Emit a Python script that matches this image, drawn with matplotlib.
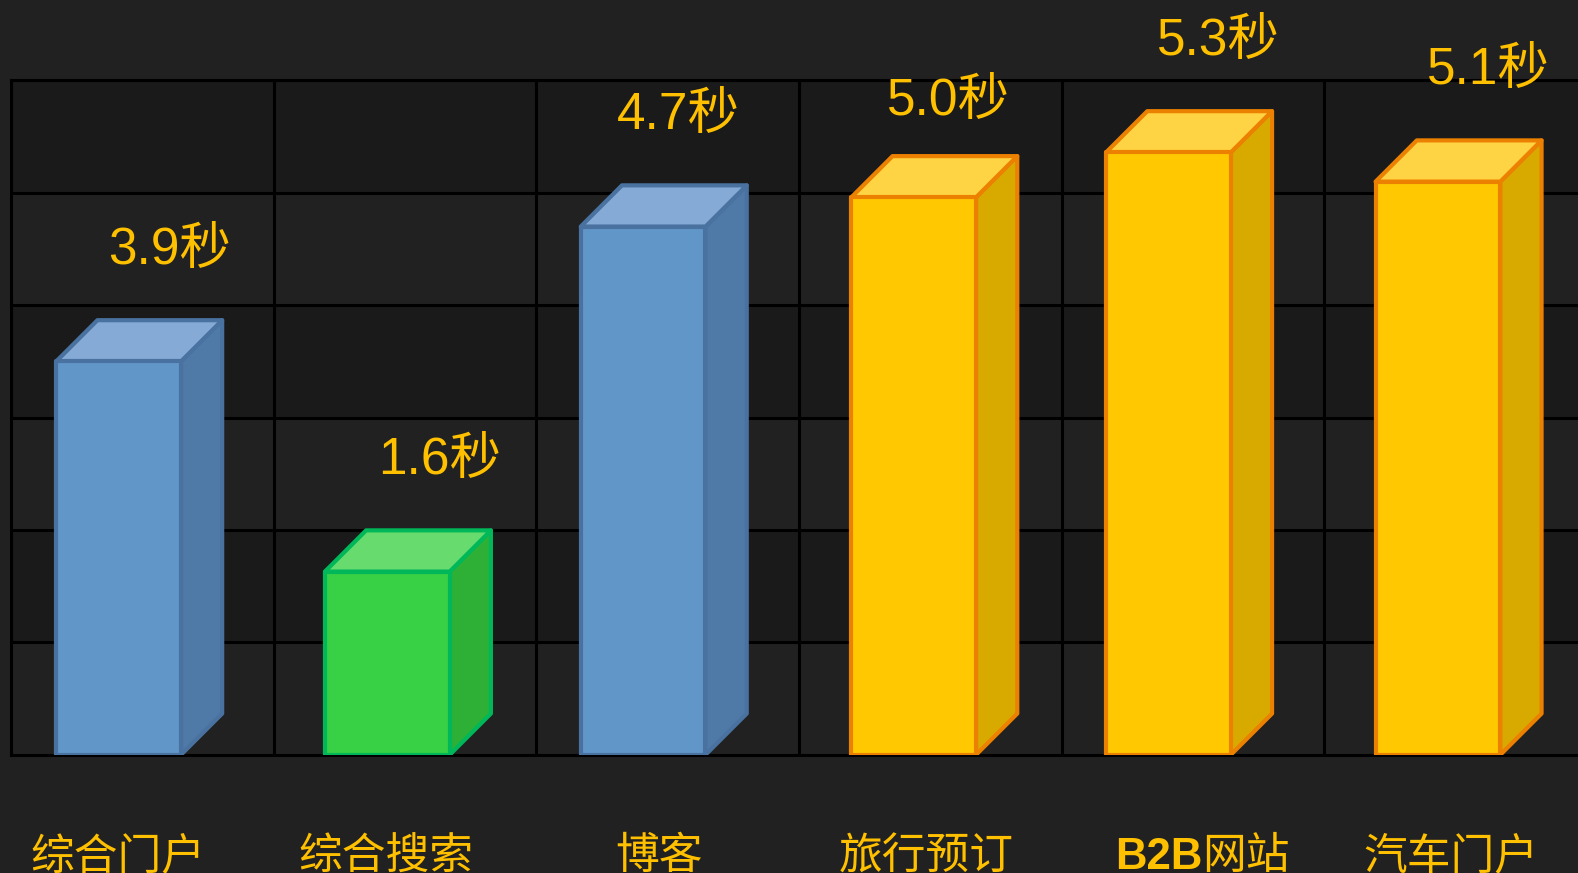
import matplotlib
matplotlib.use("Agg")
import matplotlib.pyplot as plt
from matplotlib.patches import Polygon, Rectangle
from matplotlib.transforms import blended_transform_factory

# data
categories = ["综合门户", "综合搜索", "博客", "旅行预订", "B2B网站", "汽车门户"]
heights = [3.5, 1.63, 4.7, 4.96, 5.36, 5.1]
value_labels = ["3.9秒", "1.6秒", "4.7秒", "5.0秒", "5.3秒", "5.1秒"]
groups = ["blue", "green", "blue", "yellow", "yellow", "yellow"]

BG = "#212121"
BAND = "#1a1a1a"
TXT = "#ffc000"
# front, top, side, edge
PAL = {
    "blue": ("#6196c9", "#85aad5", "#4f7aa8", "#4a72a0"),
    "green": ("#38d145", "#68db6e", "#2db035", "#00b85a"),
    "yellow": ("#ffc800", "#ffd444", "#d8aa00", "#ec8000"),
}
FONT = ["Liberation Sans", "Noto Sans CJK SC"]

# layout (bar left edge inside each cell, label nudges)
W, DX, DY = 0.475, 0.157, 0.367
BAR_X = [0.172, 0.195, 0.169, 0.199, 0.169, 0.195]
VAL_DX = [0.43, 0.437, 0.371, 0.368, 0.429, 0.43]
VAL_DY = [0.985, 0.985, 0.985, 0.85, 0.985, 0.985]
CAT_X = [0.406, 0.429, 0.467, 0.483, 0.51, 0.483]

fig = plt.figure(figsize=(15.78, 8.73), dpi=100, facecolor=BG)
ax = fig.add_axes([11 / 1578, 0.1354, 1576 / 1578, 0.7724])
ax.set_facecolor(BG)
ax.set_xlim(0, 6)
ax.set_ylim(0, 6)

# alternating bands
for y0 in (1, 3, 5):
    ax.axhspan(y0, y0 + 1, color=BAND, zorder=0, lw=0)

ax.set_yticks(range(7))
ax.set_xticks(range(7))
ax.grid(True, color="black", lw=2.2, zorder=1)
ax.tick_params(length=0, labelbottom=False, labelleft=False)
for s in ax.spines.values():
    s.set_color("black")
    s.set_linewidth(2.2)
    s.set_zorder(1)

lw = 3.0
for i, (h, g) in enumerate(zip(heights, groups)):
    front, top, side, edge = PAL[g]
    x0 = i + BAR_X[i]
    kw = dict(ec=edge, lw=lw, joinstyle="round", zorder=3)
    ax.add_patch(Polygon([(x0 + W, 0), (x0 + W + DX, DY), (x0 + W + DX, h + DY), (x0 + W, h)],
                         fc=side, **kw))
    ax.add_patch(Polygon([(x0, h), (x0 + DX, h + DY), (x0 + W + DX, h + DY), (x0 + W, h)],
                         fc=top, **kw))
    ax.add_patch(Rectangle((x0, 0), W, h, fc=front, **kw))
    ax.text(x0 + VAL_DX[i], h + VAL_DY[i], value_labels[i], color=TXT, fontsize=37,
            family=FONT, ha="center", va="center", zorder=4)

# category labels (cut by the bottom edge, as in the original)
tr = blended_transform_factory(ax.transData, ax.transAxes)
ly = -0.153
for i, c in enumerate(categories):
    xc = i + CAT_X[i]
    if c.startswith("B2B"):
        ax.text(xc + 0.026, ly, "B2B", color=TXT, fontsize=31.5, family=FONT,
                fontweight="bold", ha="right", va="center", transform=tr, clip_on=False)
        ax.text(xc + 0.026, ly, c[3:], color=TXT, fontsize=31.5, family=FONT,
                ha="left", va="center", transform=tr, clip_on=False)
    else:
        ax.text(xc, ly, c, color=TXT, fontsize=31.5, family=FONT,
                ha="center", va="center", transform=tr, clip_on=False)

fig.savefig("out.png", dpi=100, facecolor=BG)
